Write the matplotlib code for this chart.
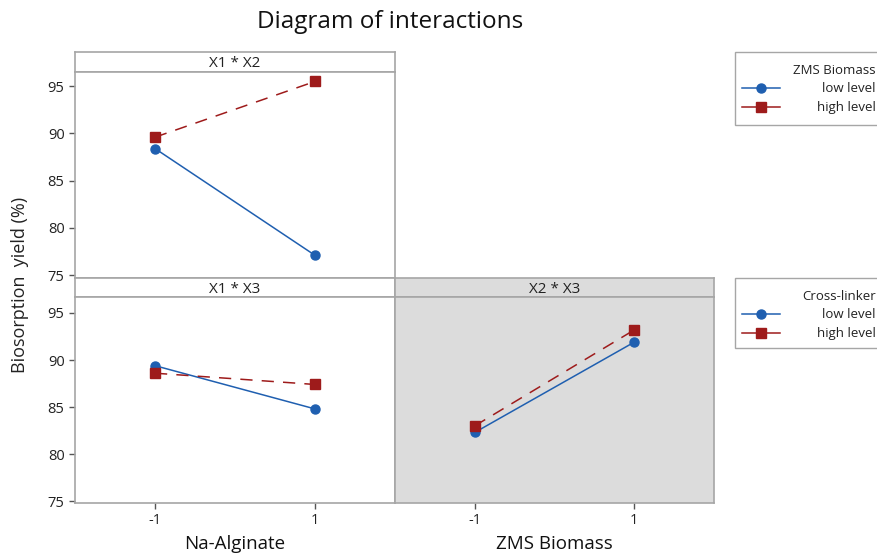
import matplotlib
matplotlib.use("Agg")
import matplotlib.pyplot as plt
from matplotlib.lines import Line2D
from matplotlib.patches import Rectangle

plt.rcParams['font.family'] = ['Open Sans', 'DejaVu Sans']

levels = [-1, 1]

# X1 * X2 (traces = ZMS Biomass)
x1x2_low = [88.4, 77.1]
x1x2_high = [89.6, 95.5]
# X1 * X3 (traces = Cross-linker)
x1x3_low = [89.4, 84.8]
x1x3_high = [88.6, 87.4]
# X2 * X3 (traces = Cross-linker)
x2x3_low = [82.3, 91.9]
x2x3_high = [83.0, 93.2]

yticks = [75, 80, 85, 90, 95]
blue = '#1f5fb0'
red = '#9e1b1b'
edge = '#a6a6a6'

W, H = 878, 556
fig = plt.figure(figsize=(W / 100, H / 100), dpi=100)


def px(x0, y0, x1, y1):
    # pixel box (top-left origin) -> figure fraction
    return [x0 / W, 1 - y1 / H, (x1 - x0) / W, (y1 - y0) / H]


def fx(x):
    return x / W


def fy(y):
    return 1 - y / H


def strip(x0, y0, x1, y1, text, bg='white'):
    s = fig.add_axes(px(x0, y0, x1, y1))
    s.set_facecolor(bg)
    s.set_xticks([])
    s.set_yticks([])
    for sp in s.spines.values():
        sp.set_color(edge)
        sp.set_linewidth(1.2)
    s.text(0.5, 0.42, text, ha='center', va='center', fontsize=11, color='#222222')
    return s


def panel(x0, y0, x1, y1, low, high, ylim, bg='white'):
    ax = fig.add_axes(px(x0, y0, x1, y1))
    ax.set_facecolor(bg)
    ax.plot(levels, low, '-', color=blue, marker='o', markersize=6.5, lw=1.1)
    ax.plot(levels, high, color=red, marker='s', markersize=6.5, lw=1.1,
            dashes=(8, 6))
    ax.set_xlim(-2, 2)
    ax.set_ylim(*ylim)
    for sp in ax.spines.values():
        sp.set_color(edge)
        sp.set_linewidth(1.2)
    ax.tick_params(colors='#555555', labelcolor='#222222', labelsize=10.5,
                   length=4, width=1)
    return ax


# top-left panel
strip(75, 52, 395, 72, 'X1 * X2')
ax1 = panel(75, 72, 395, 278, x1x2_low, x1x2_high, (74.7, 96.5))
ax1.set_yticks(yticks)
ax1.set_xticks([])

# bottom-left panel
strip(75, 278, 395, 297, 'X1 * X3')
ax2 = panel(75, 297, 395, 503, x1x3_low, x1x3_high, (74.8, 96.7))
ax2.set_yticks(yticks)
ax2.set_xticks(levels)
ax2.set_xticklabels(['-1', '1'])

# bottom-right panel
strip(395, 278, 714, 297, 'X2 * X3', bg='#dcdcdc')
ax3 = panel(395, 297, 714, 503, x2x3_low, x2x3_high, (74.8, 96.7), bg='#dcdcdc')
ax3.set_yticks([])
ax3.set_xticks(levels)
ax3.set_xticklabels(['-1', '1'])

fig.text(fx(235), fy(544), 'Na-Alginate', ha='center', va='center',
         fontsize=13.5, color='#111111')
fig.text(fx(554), fy(544), 'ZMS Biomass', ha='center', va='center',
         fontsize=13.5, color='#111111')
fig.text(fx(390), fy(22), 'Diagram of interactions', ha='center', va='center',
         fontsize=17.5, color='#111111')
fig.text(fx(20), fy(285), 'Biosorption  yield (%)', ha='center', va='center',
         rotation=90, fontsize=13, color='#222222')


def legend(title, top, bottom):
    fig.patches.append(Rectangle((fx(735), fy(bottom)), fx(160), fy(top) - fy(bottom),
                                 transform=fig.transFigure, facecolor='white',
                                 edgecolor=edge, lw=1.0))
    fig.text(fx(876), fy(top + 18), title, ha='right', va='center',
             fontsize=9.5, color='#222222')
    rows = [('low level', blue, 'o'), ('high level', red, 's')]
    for i, (lab, c, m) in enumerate(rows):
        y = fy(top + 36 + 19 * i)
        fig.lines.append(Line2D([fx(742), fx(780)], [y, y], color=c, lw=1.1,
                                transform=fig.transFigure))
        fig.lines.append(Line2D([fx(761)], [y], color=c, marker=m, markersize=6.5,
                                transform=fig.transFigure))
        fig.text(fx(876), y, lab, ha='right', va='center', fontsize=9.5,
                 color='#222222')


legend('ZMS Biomass', 52, 125)
legend('Cross-linker', 278, 348)

fig.savefig('out.png', dpi=100)
